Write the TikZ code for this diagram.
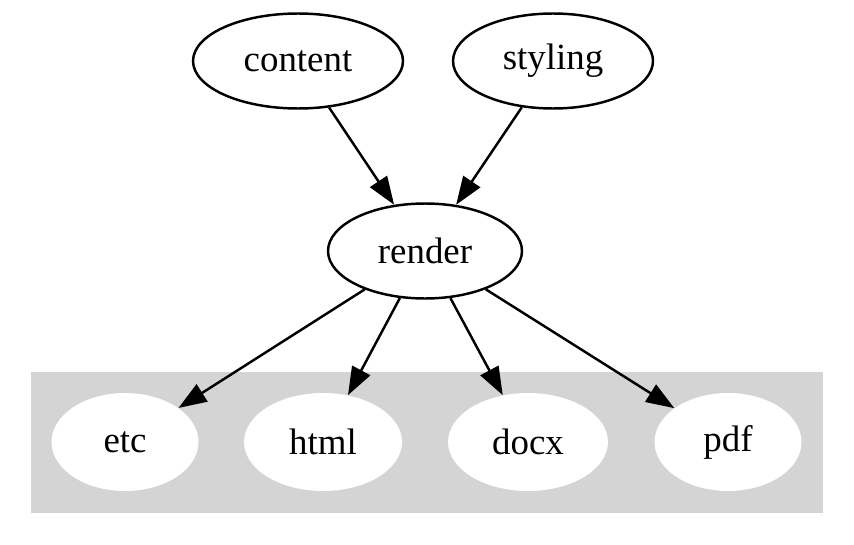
\documentclass[tikz,border=0pt]{standalone}
\usepackage{fontspec}
\setmainfont{Liberation Serif}
\usetikzlibrary{shapes.geometric,arrows.meta}

\begin{document}
\begin{tikzpicture}[x=0.02cm,y=-0.02cm,
    stage/.style={ellipse,draw,line width=1.4pt,inner sep=0pt,
        minimum height=1.9cm,font=\fontsize{21}{24}\selectfont},
    output/.style={ellipse,fill=white,inner sep=0pt,
        minimum height=1.96cm,font=\fontsize{21}{24}\selectfont},
    flow/.style={-{Triangle[length=16pt,width=11.5pt]},line width=1.4pt}]
    \useasboundingbox (0,0) rectangle (854,544);

    % Output cluster
    \fill[black!17] (31,372) rectangle (823,513);

    % Inputs
    \node[stage,minimum width=4.2cm] (content) at (298,61) {content};
    \node[stage,minimum width=4.0cm] (styling) at (553,61) {styling};

    % Renderer
    \node[stage,minimum width=3.88cm] (render) at (425,251) {render};

    % Formats
    \node[output,minimum width=2.94cm] (etc) at (125,442) {etc};
    \node[output,minimum width=3.16cm] (html) at (323,442) {html};
    \node[output,minimum width=3.2cm] (docx) at (528,442) {docx};
    \node[output,minimum width=2.94cm] (pdf) at (728,442) {pdf};

    % Edges
    \draw[flow] (content) -- (render);
    \draw[flow] (styling) -- (render);
    \draw[flow] (render) -- (etc);
    \draw[flow] (render) -- (html);
    \draw[flow] (render) -- (docx);
    \draw[flow] (render) -- (pdf);
\end{tikzpicture}
\end{document}
